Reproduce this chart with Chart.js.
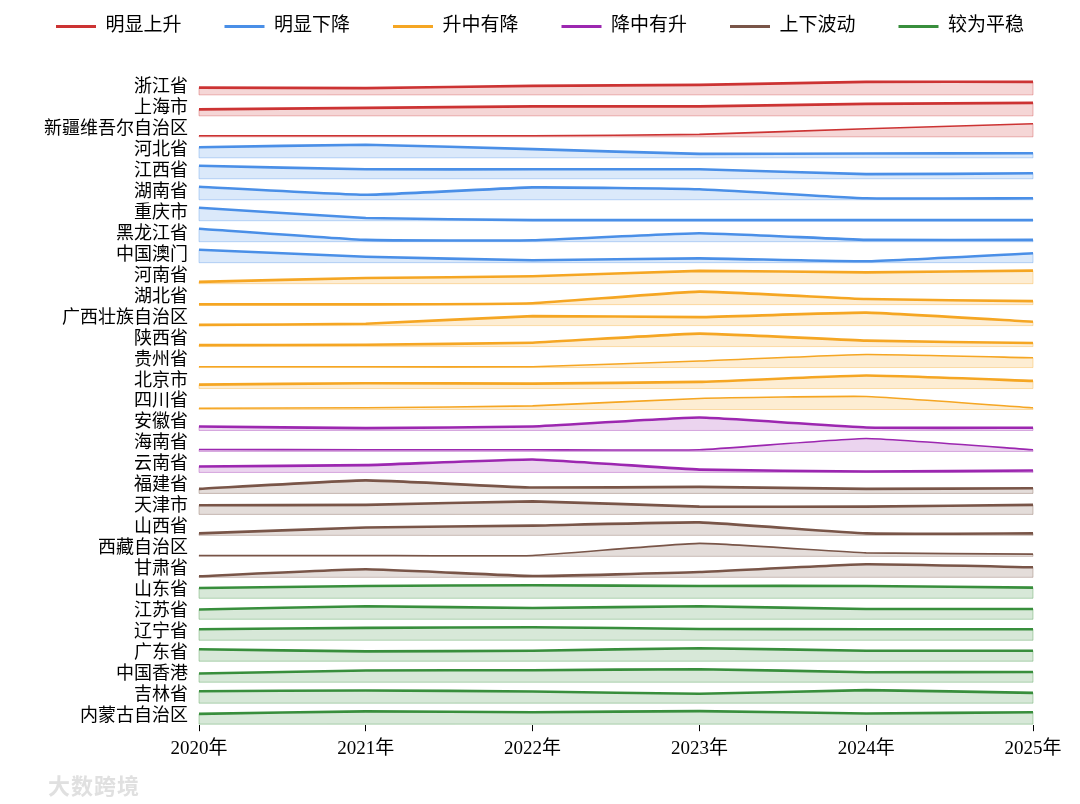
<!DOCTYPE html>
<html>
<head>
<meta charset="utf-8">
<script src="https://cdn.jsdelivr.net/npm/chart.js@4.4.1/dist/chart.umd.min.js"></script>
<style>
  body { margin: 0; background: #fff; }
  #wrap { position: relative; width: 1080px; height: 804px; }
  #mark { position: absolute; left: 48px; top: 768px; font: bold 22px 'Noto Sans CJK SC', sans-serif; color: #e0e0e0; letter-spacing: 1px; }
</style>
</head>
<body>
<div id="wrap">
  <canvas id="ridgeChart"></canvas>
  <div id="mark">大数跨境</div>
</div>
<script>
const years = [2020, 2021, 2022, 2023, 2024, 2025];
const groups = ['明显上升', '明显下降', '升中有降', '降中有升', '上下波动', '较为平稳'];
const groupColors = ['#cc3333', '#4a8fe7', '#f5a623', '#9c27b0', '#795548', '#388e3c'];

// relative index per province (own max = 100)
const risingNames = ['浙江省', '上海市', '新疆维吾尔自治区'];
const risingValues = [
  [56, 52, 69, 77, 100, 100],
  [50, 61, 73, 73, 92, 100],
  [8, 8, 8, 19, 62, 100]
];
const fallingNames = ['河北省', '江西省', '湖南省', '重庆市', '黑龙江省', '中国澳门'];
const fallingValues = [
  [81, 100, 67, 30, 33, 35],
  [100, 73, 73, 73, 36, 42],
  [100, 38, 95, 81, 11, 11],
  [100, 21, 5, 5, 5, 5],
  [100, 14, 11, 65, 14, 14],
  [100, 46, 19, 33, 11, 73]
];
const upDownNames = ['河南省', '湖北省', '广西壮族自治区', '陕西省', '贵州省', '北京市', '四川省'];
const upDownValues = [
  [14, 43, 57, 98, 87, 100],
  [2, 2, 11, 100, 43, 27],
  [6, 14, 73, 65, 100, 30],
  [11, 14, 30, 100, 46, 27],
  [6, 6, 6, 50, 100, 75],
  [30, 41, 38, 51, 100, 59],
  [10, 13, 28, 85, 100, 13]
];
const downUpNames = ['安徽省', '海南省', '云南省'];
const downUpValues = [
  [31, 18, 31, 100, 23, 21],
  [15, 13, 13, 13, 100, 13],
  [46, 56, 100, 22, 7, 15]
];
const waveNames = ['福建省', '天津市', '山西省', '西藏自治区', '甘肃省'];
const waveValues = [
  [35, 100, 45, 50, 35, 40],
  [70, 73, 100, 60, 60, 73],
  [15, 60, 75, 100, 15, 15],
  [7, 7, 7, 100, 27, 17],
  [8, 62, 10, 41, 100, 77]
];
const flatNames = ['山东省', '江苏省', '辽宁省', '广东省', '中国香港', '吉林省', '内蒙古自治区'];
const flatValues = [
  [79, 95, 100, 95, 95, 82],
  [75, 100, 87, 100, 79, 79],
  [85, 95, 100, 87, 85, 85],
  [92, 76, 81, 100, 81, 81],
  [67, 90, 92, 100, 77, 79],
  [92, 98, 90, 72, 100, 79],
  [79, 98, 92, 100, 82, 92]
];

const groupNames = [risingNames, fallingNames, upDownNames, downUpNames, waveNames, flatNames];
const groupValues = [risingValues, fallingValues, upDownValues, downUpValues, waveValues, flatValues];
const thinRows = ['新疆维吾尔自治区', '贵州省', '四川省', '海南省', '西藏自治区'];

const ROW_H = 0.62;      // height of a 100 value, in rows
const LABEL_OFF = 0.37;  // label sits above the baseline

function hexToRgba(hex, a) {
  const n = parseInt(hex.slice(1), 16);
  return `rgba(${(n >> 16) & 255}, ${(n >> 8) & 255}, ${n & 255}, ${a})`;
}

const provinces = [];
const datasets = [];
groupNames.forEach((names, g) => {
  names.forEach((name, k) => provinces.push({ name, g, vals: groupValues[g][k] }));
});
const nRows = provinces.length;
provinces.forEach((p, i) => {
  const base = nRows - 1 - i;
  datasets.push({
    label: p.name,
    group: p.g,
    base: base,
    data: years.map((yr, j) => ({ x: yr, y: base + p.vals[j] / 100 * ROW_H })),
    borderColor: groupColors[p.g],
    backgroundColor: hexToRgba(groupColors[p.g], 0.2),
    borderWidth: thinRows.includes(p.name) ? 1.6 : 2.6,
    pointRadius: 0,
    tension: 0.12,
    fill: { value: base }
  });
});

// thin outline round each filled band
const fillEdges = {
  id: 'fillEdges',
  afterDatasetsDraw(chart) {
    const ctx = chart.ctx;
    const xs = chart.scales.x, ys = chart.scales.y;
    chart.data.datasets.forEach((ds, i) => {
      const pts = chart.getDatasetMeta(i).data;
      const x0 = xs.getPixelForValue(years[0]);
      const x1 = xs.getPixelForValue(years[years.length - 1]);
      const yb = ys.getPixelForValue(ds.base);
      ctx.save();
      ctx.strokeStyle = hexToRgba(groupColors[ds.group], 0.35);
      ctx.lineWidth = 1;
      ctx.beginPath();
      ctx.moveTo(x0, pts[0].y);
      ctx.lineTo(x0, yb);
      ctx.lineTo(x1, yb);
      ctx.lineTo(x1, pts[pts.length - 1].y);
      ctx.stroke();
      ctx.restore();
    });
  }
};

const fontFamily = "'Liberation Serif', 'Noto Sans CJK SC', serif";

const ctx = document.getElementById('ridgeChart').getContext('2d');
new Chart(ctx, {
  type: 'line',
  data: { datasets },
  plugins: [fillEdges],
  options: {
    responsive: true,
    maintainAspectRatio: false,
    animation: false,
    layout: { padding: { left: 0, right: 0, top: -26, bottom: 38 } },
    scales: {
      x: {
        type: 'linear',
        min: 2020,
        max: 2025,
        grid: { display: true, drawOnChartArea: false, drawTicks: true, tickLength: 6, color: '#000', lineWidth: 1 },
        border: { display: false },
        ticks: {
          stepSize: 1,
          color: '#000',
          padding: 6,
          font: { family: fontFamily, size: 19 },
          callback: v => v + '年'
        }
      },
      y: {
        type: 'linear',
        min: -0.05,
        max: 32.33,
        grid: { display: false, drawTicks: false },
        border: { display: false },
        afterFit: scale => { scale.width = 199; },
        afterBuildTicks: scale => {
          scale.ticks = provinces.map((p, i) => ({ value: nRows - 1 - i + LABEL_OFF }));
        },
        ticks: {
          autoSkip: false,
          color: '#000',
          padding: 11,
          font: { family: fontFamily, size: 18, lineHeight: 1 },
          callback: v => provinces[Math.round(nRows - 1 + LABEL_OFF - v)].name
        }
      },
      // empty right margin so the legend keeps the full width
      yRight: {
        type: 'linear',
        position: 'right',
        grid: { display: false, drawTicks: false },
        border: { display: false },
        ticks: { display: false },
        afterFit: scale => { scale.width = 47; }
      }
    },
    plugins: {
      tooltip: { enabled: false },
      legend: {
        position: 'top',
        labels: {
          color: '#000',
          boxWidth: 40,
          boxHeight: 3,
          padding: 43,
          font: { family: fontFamily, size: 19 },
          generateLabels: () => groups.map((name, g) => ({
            text: name,
            fillStyle: groupColors[g],
            strokeStyle: groupColors[g],
            lineWidth: 0,
            hidden: false,
            datasetIndex: datasets.findIndex(d => d.group === g)
          }))
        },
        onClick: null
      }
    }
  }
});
</script>
</body>
</html>
